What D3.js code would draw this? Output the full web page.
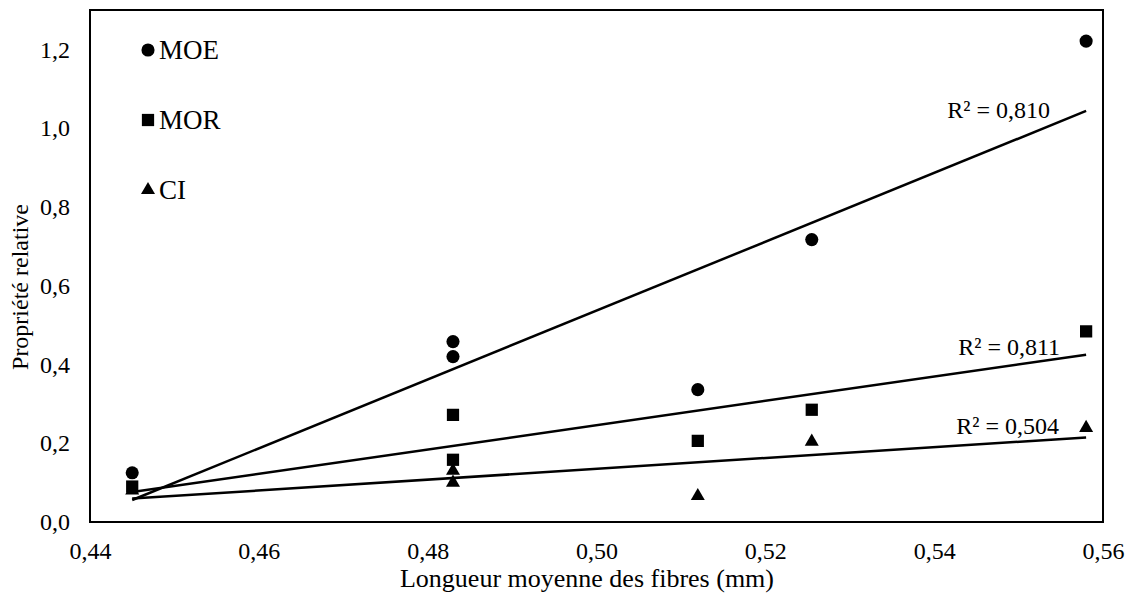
<!DOCTYPE html>
<html><head><meta charset="utf-8">
<script src="https://cdn.jsdelivr.net/npm/d3@7"></script>
<style>
html,body{margin:0;padding:0;background:#fff;}
</style></head>
<body><svg id="c" width="1134" height="595"></svg>
<script>
// Data
const fiberLength = [0.445, 0.483, 0.483, 0.512, 0.5255, 0.558];
const moe = [0.125, 0.458, 0.42, 0.336, 0.717, 1.221];
const mor = [0.09, 0.272, 0.158, 0.206, 0.285, 0.484];
const ci  = [0.08, 0.13, 0.10, 0.066, 0.204, 0.239];
const seriesNames = ["MOE", "MOR", "CI"];
const r2Labels = ["R² = 0,810", "R² = 0,811", "R² = 0,504"];
const xTicks = [0.44, 0.46, 0.48, 0.50, 0.52, 0.54, 0.56];
const yTicks = [0, 0.2, 0.4, 0.6, 0.8, 1.0, 1.2];

const FONT = "'Liberation Serif', 'DejaVu Serif', serif";
const svg = d3.select("#c").attr("font-family", FONT);
const L = 90, R = 1103, T = 10, B = 522;
const x = d3.scaleLinear().domain([0.44, 0.56]).range([L, R]);
const y = d3.scaleLinear().domain([0, 1.3]).range([B, T]);
const fmt = d => d3.format(".2f")(d).replace(".", ",");
const fmtY = d => d3.format(".1f")(d).replace(".", ",");

// frame
svg.append("rect").attr("x", L).attr("y", T).attr("width", R - L).attr("height", B - T)
  .attr("fill", "none").attr("stroke", "#000").attr("stroke-width", 2);

// axes
const xAxis = svg.append("g").attr("transform", `translate(0,${B})`)
  .call(d3.axisBottom(x).tickValues(xTicks).tickFormat(fmt).tickSize(0).tickPadding(20));
const yAxis = svg.append("g").attr("transform", `translate(${L},0)`)
  .call(d3.axisLeft(y).tickValues(yTicks).tickFormat(fmtY).tickSize(0).tickPadding(20));
[xAxis, yAxis].forEach(a => {
  a.attr("font-family", FONT).attr("font-size", 24);
  a.select(".domain").remove();
  a.selectAll("text").attr("fill", "#000");
});

svg.append("text").attr("x", 587).attr("y", 587).attr("text-anchor", "middle")
  .attr("font-size", 26).text("Longueur moyenne des fibres (mm)");
svg.append("text").attr("transform", "translate(28,287) rotate(-90)").attr("text-anchor", "middle")
  .attr("font-size", 24).text("Propriété relative");

const allSeries = [moe, mor, ci];
const symbols = [d3.symbolCircle, d3.symbolSquare, d3.symbolTriangle];
const sizes = [135, 150, 85];

// regression lines
const offs = [7, 0, -3];
const xoffs = [-36, -26, -27];
allSeries.forEach((ys, i) => {
  const mx = d3.mean(fiberLength), my = d3.mean(ys);
  let sxy = 0, sxx = 0;
  fiberLength.forEach((xv, k) => { sxy += (xv - mx) * (ys[k] - my); sxx += (xv - mx) ** 2; });
  const b = sxy / sxx, a = my - b * mx;
  const x0 = d3.min(fiberLength), x1 = d3.max(fiberLength);
  svg.append("line").attr("x1", x(x0)).attr("y1", y(a + b * x0)).attr("x2", x(x1)).attr("y2", y(a + b * x1))
    .attr("stroke", "#000").attr("stroke-width", 2.5);
  svg.append("text").attr("x", x(x1) + xoffs[i]).attr("y", y(a + b * x1) + offs[i]).attr("text-anchor", "end")
    .attr("font-size", 24).text(r2Labels[i]);
});

// points
allSeries.forEach((ys, i) => {
  svg.append("g").selectAll("path").data(ys).join("path")
    .attr("transform", (d, k) => `translate(${x(fiberLength[k])},${y(d)})`)
    .attr("d", d3.symbol().type(symbols[i]).size(sizes[i])).attr("fill", "#000");
});

// legend
const legY = [50, 120, 190];
seriesNames.forEach((n, i) => {
  svg.append("path").attr("transform", `translate(148,${legY[i]})`)
    .attr("d", d3.symbol().type(symbols[i]).size(sizes[i])).attr("fill", "#000");
  svg.append("text").attr("x", 159).attr("y", legY[i] + 9).attr("font-size", 27).text(n);
});
</script></body></html>
